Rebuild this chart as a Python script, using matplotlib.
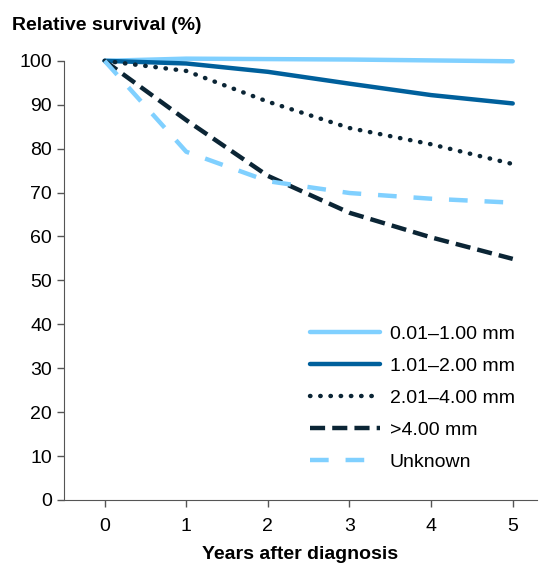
import matplotlib
matplotlib.use("Agg")
from matplotlib import pyplot as plt

plt.rcParams['font.family'] = ['Liberation Sans', 'DejaVu Sans']

years = [0, 1, 2, 3, 4, 5]
thin = [100, 100.5, 100.4, 100.3, 100.1, 99.9]
mid = [100, 99.4, 97.5, 94.8, 92.2, 90.3]
thick = [100, 97.7, 90.7, 84.7, 81.0, 76.5]
very_thick = [100, 86.5, 73.8, 65.4, 59.8, 54.9]
unknown = [100, 79.3, 72.6, 69.9, 68.6, 67.7]

labels = ['0.01\u20131.00 mm', '1.01\u20132.00 mm', '2.01\u20134.00 mm', '>4.00 mm', 'Unknown']
y_ticks = list(range(0, 101, 10))

light = '#80D0FF'
blue = '#00609C'
navy = '#0B2535'

fig = plt.figure(figsize=(5.41, 5.74), dpi=100)
ax = fig.add_axes([0.118, 0.129, 0.875, 0.765])

ax.plot(years, thin, color=light, lw=3.2, label=labels[0], clip_on=False, solid_capstyle='round')
ax.plot(years, mid, color=blue, lw=3.2, label=labels[1], clip_on=False, solid_capstyle='round')
ax.plot(years, thick, color=navy, lw=3.2, ls=(0, (0.1, 2.2)), dash_capstyle='round', label=labels[2], clip_on=False)
ax.plot(years, very_thick, color=navy, lw=3.2, ls=(0, (3.4, 1.6)), label=labels[3], clip_on=False)
ax.plot(years, unknown, color=light, lw=3.2, ls=(0, (4.2, 3.8)), label=labels[4], clip_on=False)

ax.set_xlim(-0.5, 5.3)
ax.set_ylim(0, 100)
ax.set_xticks(years)
ax.set_yticks(y_ticks)
ax.tick_params(labelsize=14, length=5, color='#555555', width=1)
ax.tick_params(axis='x', pad=8)
for s in ['top', 'right']:
    ax.spines[s].set_visible(False)
for s in ['left', 'bottom']:
    ax.spines[s].set_color('#555555')

ax.set_xlabel('Years after diagnosis', fontsize=14, fontweight='bold', labelpad=8)
fig.text(0.022, 0.955, 'Relative survival (%)', fontsize=14, fontweight='bold', va='center')

ax.legend(loc='lower right', bbox_to_anchor=(0.99, 0.026), frameon=False, fontsize=14,
          handlelength=3.6, labelspacing=0.74, handletextpad=0.5)

plt.savefig('out.png', dpi=100)
